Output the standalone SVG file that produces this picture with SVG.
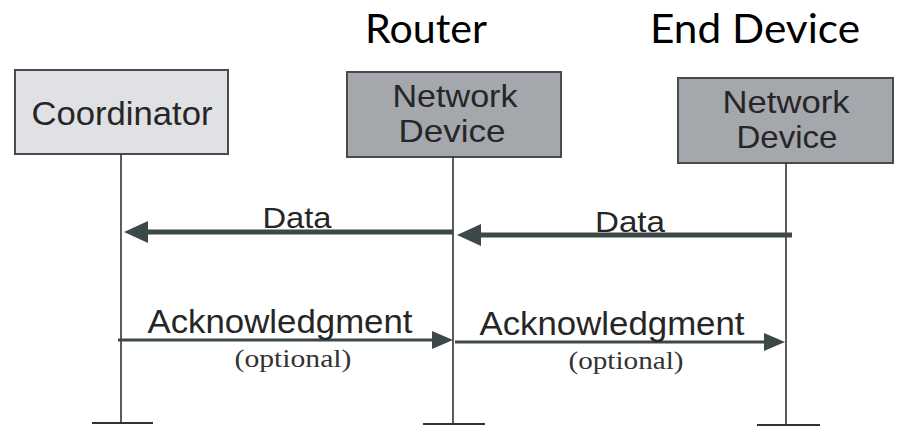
<svg xmlns="http://www.w3.org/2000/svg" width="899" height="426" viewBox="0 0 899 426">
  <style>
    .box { stroke: #4a4a4a; stroke-width: 2; }
    .coord { fill: #dfe1e4; }
    .dev { fill: #a4a7ac; }
    .lbl { font-family: "Liberation Sans", Arial, sans-serif; fill: #262626; text-anchor: middle; }
    .role { font-family: "Lato", "Open Sans", sans-serif; font-size: 40px; fill: #000; text-anchor: start; }
    .opt { font-family: "Liberation Serif", "Times New Roman", serif; font-size: 25px; fill: #333; text-anchor: middle; }
    .life { stroke: #333; stroke-width: 1.6; fill: none; }
    .tick { stroke: #333; stroke-width: 2; }
    .data { stroke: #3d4848; stroke-width: 5; }
    .ack { stroke: #3d4848; stroke-width: 3; }
  </style>
  <defs>
    <marker id="headData" markerUnits="userSpaceOnUse" markerWidth="24" markerHeight="22" refX="0" refY="11" orient="auto">
      <path d="M0,0 L24,11 L0,22 Z" fill="#3d4848"/>
    </marker>
    <marker id="headAck" markerUnits="userSpaceOnUse" markerWidth="21" markerHeight="18" refX="0" refY="9" orient="auto">
      <path d="M0,0 L21,9 L0,18 Z" fill="#3d4848"/>
    </marker>
  </defs>
  <rect width="899" height="426" fill="#ffffff"/>

  <text class="role" x="365" y="43" textLength="122" lengthAdjust="spacingAndGlyphs">Router</text>
  <text class="role" x="650" y="43" textLength="210" lengthAdjust="spacingAndGlyphs">End Device</text>

  <g id="coordinator">
    <rect class="box coord" x="15" y="70" width="213" height="84"/>
    <text class="lbl" x="122" y="125" font-size="33" textLength="181" lengthAdjust="spacingAndGlyphs">Coordinator</text>
  </g>
  <g id="router">
    <rect class="box dev" x="347" y="72" width="214" height="85"/>
    <text class="lbl" x="455" y="107" font-size="32" textLength="125" lengthAdjust="spacingAndGlyphs">Network</text>
    <text class="lbl" x="452" y="142" font-size="32" textLength="107" lengthAdjust="spacingAndGlyphs">Device</text>
  </g>
  <g id="end-device">
    <rect class="box dev" x="678" y="78" width="215" height="85"/>
    <text class="lbl" x="786" y="113" font-size="32" textLength="127" lengthAdjust="spacingAndGlyphs">Network</text>
    <text class="lbl" x="787" y="148" font-size="32" textLength="101" lengthAdjust="spacingAndGlyphs">Device</text>
  </g>

  <g id="lifelines">
    <line class="life" x1="121" y1="154" x2="121" y2="423"/>
    <line class="life" x1="453" y1="157" x2="453" y2="424"/>
    <line class="life" x1="786" y1="163" x2="786" y2="425"/>
    <line class="tick" x1="92" y1="423" x2="153" y2="423"/>
    <line class="tick" x1="423" y1="424" x2="485" y2="424"/>
    <line class="tick" x1="757" y1="425" x2="820" y2="425"/>
  </g>

  <g id="connectors">
    <line class="data" x1="453" y1="232" x2="148" y2="232" marker-end="url(#headData)"/>
    <line class="data" x1="792" y1="235" x2="481" y2="235" marker-end="url(#headData)"/>
    <line class="ack" x1="118" y1="340" x2="432" y2="340" marker-end="url(#headAck)"/>
    <line class="ack" x1="455" y1="342" x2="764" y2="342" marker-end="url(#headAck)"/>
    <text class="lbl" x="297" y="228" font-size="30" fill="#444" textLength="69" lengthAdjust="spacingAndGlyphs">Data</text>
    <text class="lbl" x="630" y="232" font-size="30" fill="#444" textLength="70" lengthAdjust="spacingAndGlyphs">Data</text>
    <text class="lbl" x="280" y="333" font-size="33" textLength="265" lengthAdjust="spacingAndGlyphs">Acknowledgment</text>
    <text class="lbl" x="612" y="335" font-size="33" textLength="265" lengthAdjust="spacingAndGlyphs">Acknowledgment</text>
    <text class="opt" x="293" y="367" textLength="117" lengthAdjust="spacingAndGlyphs">(optional)</text>
    <text class="opt" x="626" y="369" textLength="115" lengthAdjust="spacingAndGlyphs">(optional)</text>
  </g>
</svg>
